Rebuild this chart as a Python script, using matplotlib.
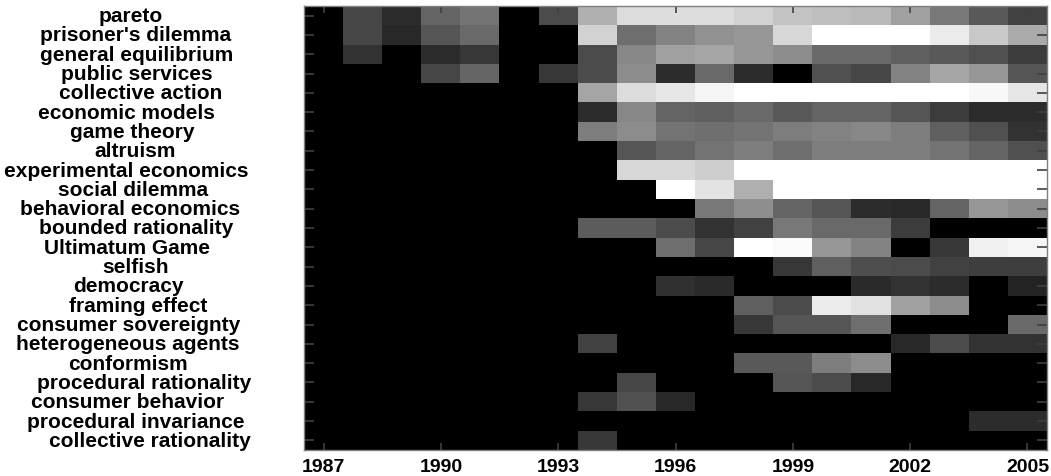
import numpy as np
import matplotlib
matplotlib.use("Agg")
import matplotlib.pyplot as plt
from matplotlib.transforms import blended_transform_factory

years = list(range(1987, 2006))
terms = ["pareto", "prisoner's dilemma", "general equilibrium", "public services",
         "collective action", "economic models", "game theory", "altruism",
         "experimental economics", "social dilemma", "behavioral economics",
         "bounded rationality", "Ultimatum Game", "selfish", "democracy",
         "framing effect", "consumer sovereignty", "heterogeneous agents",
         "conformism", "procedural rationality", "consumer behavior",
         "procedural invariance", "collective rationality"]

# grey intensity (0-255) per term, per year 1987..2005
pareto                 = [0, 70, 45, 100, 115, 0, 75, 175, 220, 220, 220, 210, 195, 190, 185, 160, 120, 90, 65]
prisoners_dilemma      = [0, 70, 40, 85, 105, 0, 0, 210, 110, 130, 145, 150, 215, 255, 255, 255, 235, 200, 170]
general_equilibrium    = [0, 50, 0, 45, 55, 0, 0, 75, 135, 160, 165, 150, 140, 105, 105, 95, 90, 80, 60]
public_services        = [0, 0, 0, 70, 100, 0, 55, 75, 140, 45, 105, 45, 0, 80, 70, 130, 165, 150, 85]
collective_action      = [0, 0, 0, 0, 0, 0, 0, 165, 220, 230, 245, 255, 255, 255, 255, 255, 255, 248, 230]
economic_models        = [0, 0, 0, 0, 0, 0, 0, 45, 135, 100, 95, 105, 90, 100, 100, 85, 60, 45, 45]
game_theory            = [0, 0, 0, 0, 0, 0, 0, 125, 140, 115, 110, 115, 125, 130, 135, 125, 95, 80, 50]
altruism               = [0, 0, 0, 0, 0, 0, 0, 0, 85, 100, 115, 125, 110, 125, 125, 125, 115, 100, 80]
experimental_economics = [0, 0, 0, 0, 0, 0, 0, 0, 215, 215, 205, 255, 255, 255, 255, 255, 255, 255, 255]
social_dilemma         = [0, 0, 0, 0, 0, 0, 0, 0, 0, 255, 228, 175, 255, 255, 255, 255, 255, 255, 255]
behavioral_economics   = [0, 0, 0, 0, 0, 0, 0, 0, 0, 0, 120, 142, 100, 85, 45, 40, 100, 150, 140]
bounded_rationality    = [0, 0, 0, 0, 0, 0, 0, 92, 92, 75, 50, 65, 120, 105, 105, 60, 0, 0, 0]
ultimatum_game         = [0, 0, 0, 0, 0, 0, 0, 0, 0, 110, 70, 255, 250, 150, 130, 0, 55, 240, 245]
selfish                = [0, 0, 0, 0, 0, 0, 0, 0, 0, 0, 0, 0, 55, 95, 78, 75, 65, 62, 62]
democracy              = [0, 0, 0, 0, 0, 0, 0, 0, 0, 48, 42, 0, 0, 0, 42, 50, 45, 0, 35]
framing_effect         = [0, 0, 0, 0, 0, 0, 0, 0, 0, 0, 0, 95, 75, 235, 225, 160, 140, 0, 0]
consumer_sovereignty   = [0, 0, 0, 0, 0, 0, 0, 0, 0, 0, 0, 55, 85, 85, 110, 0, 0, 0, 105]
heterogeneous_agents   = [0, 0, 0, 0, 0, 0, 0, 65, 0, 0, 0, 0, 0, 0, 0, 40, 75, 50, 50]
conformism             = [0, 0, 0, 0, 0, 0, 0, 0, 0, 0, 0, 90, 90, 125, 140, 0, 0, 0, 0]
procedural_rationality = [0, 0, 0, 0, 0, 0, 0, 0, 70, 0, 0, 0, 85, 75, 40, 0, 0, 0, 0]
consumer_behavior      = [0, 0, 0, 0, 0, 0, 0, 55, 80, 40, 0, 0, 0, 0, 0, 0, 0, 0, 0]
procedural_invariance  = [0, 0, 0, 0, 0, 0, 0, 0, 0, 0, 0, 0, 0, 0, 0, 0, 0, 45, 45]
collective_rationality = [0, 0, 0, 0, 0, 0, 0, 55, 0, 0, 0, 0, 0, 0, 0, 0, 0, 0, 0]

xtick_years = [1987, 1990, 1993, 1996, 1999, 2002, 2005]

rows = [pareto, prisoners_dilemma, general_equilibrium, public_services,
        collective_action, economic_models, game_theory, altruism,
        experimental_economics, social_dilemma, behavioral_economics,
        bounded_rationality, ultimatum_game, selfish, democracy,
        framing_effect, consumer_sovereignty, heterogeneous_agents,
        conformism, procedural_rationality, consumer_behavior,
        procedural_invariance, collective_rationality]
Z = np.array(rows, dtype=float)

# horizontal centres (pixels) of the row labels, as in the original layout
label_centres_px = [131, 136, 137, 137, 141, 126, 132, 135, 126, 133, 130, 136,
                    127, 136, 128, 138, 129, 128, 128, 144, 128, 136, 150]

W, H = 1051, 477
fig = plt.figure(figsize=(W / 100, H / 100), dpi=100)
fig.patch.set_facecolor("white")
ax = fig.add_axes([304 / W, 1 - 451 / H, (1047 - 304) / W, (451 - 7) / H])

ax.imshow(Z, cmap="gray", vmin=0, vmax=255, aspect="auto", interpolation="nearest",
          extent=[years[0] - 0.5, years[-1] + 0.5, len(terms) - 0.5, -0.5])

ax.set_xticks(xtick_years)
ax.set_xticklabels([str(y) for y in xtick_years], fontsize=14, fontweight="bold",
                   family="Liberation Sans")
ax.set_yticks(range(len(terms)))
ax.set_yticklabels([])
ax.tick_params(axis="both", direction="in", top=True, right=True, left=True,
               bottom=True, color="#404040", width=1.2)
ax.tick_params(axis="y", length=7)
ax.tick_params(axis="x", length=5, pad=6)
for s in ax.spines.values():
    s.set_color("#808080")
    s.set_linewidth(1.0)

trans = blended_transform_factory(fig.transFigure, ax.transData)
for i, (t, cx) in enumerate(zip(terms, label_centres_px)):
    ax.text(cx / W, i, t, transform=trans, ha="center", va="center",
            fontsize=15, fontweight="bold", family="Liberation Sans", clip_on=False)

fig.savefig("out.png", dpi=100, facecolor="white")
